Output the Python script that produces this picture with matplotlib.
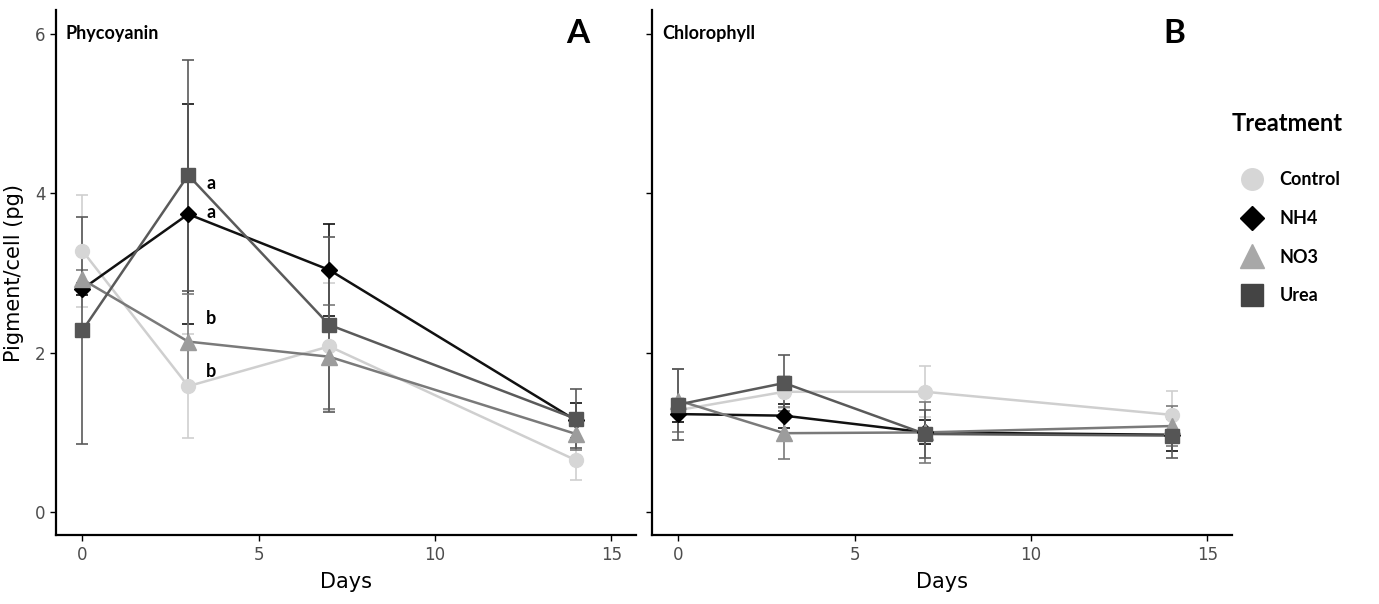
import matplotlib
matplotlib.use("Agg")
import matplotlib.pyplot as plt
from matplotlib.lines import Line2D

days = [0, 3, 7, 14]
treatments = ["Control", "NH4", "NO3", "Urea"]

# Phycocyanin (panel A)
phyco_control = [3.28, 1.58, 2.08, 0.65]
phyco_control_err = [0.70, 0.65, 0.80, 0.25]
phyco_nh4 = [2.80, 3.74, 3.04, 1.15]
phyco_nh4_err = [0.08, 1.38, 0.58, 0.22]
phyco_no3 = [2.92, 2.14, 1.95, 0.98]
phyco_no3_err = [0.12, 0.60, 0.65, 0.20]
phyco_urea = [2.28, 4.23, 2.35, 1.17]
phyco_urea_err = [1.42, 1.45, 1.10, 0.37]

# Chlorophyll (panel B)
chl_control = [1.28, 1.51, 1.51, 1.22]
chl_control_err = [0.15, 0.20, 0.32, 0.30]
chl_nh4 = [1.23, 1.21, 1.00, 0.97]
chl_nh4_err = [0.10, 0.15, 0.15, 0.20]
chl_no3 = [1.40, 0.99, 1.00, 1.08]
chl_no3_err = [0.40, 0.33, 0.38, 0.25]
chl_urea = [1.35, 1.62, 0.98, 0.96]
chl_urea_err = [0.45, 0.35, 0.30, 0.28]

# letters of significance, panel A, day 3
sig_letters = ["a", "a", "b", "b"]
sig_values = [phyco_urea[1], phyco_nh4[1], phyco_no3[1], phyco_control[1]]

marker_col = {"Control": "#d6d6d6", "NH4": "#000000", "NO3": "#9c9c9c", "Urea": "#555555"}
line_col = {"Control": "#cfcfcf", "NH4": "#111111", "NO3": "#7a7a7a", "Urea": "#5a5a5a"}
markers = {"Control": "o", "NH4": "D", "NO3": "^", "Urea": "s"}
msize = {"Control": 10, "NH4": 8, "NO3": 11, "Urea": 10}

plt.rcParams['font.family'] = ['Liberation Sans Narrow', 'DejaVu Sans']
label_font = ['Lato', 'DejaVu Sans']

fig = plt.figure(figsize=(13.79, 6.04), dpi=100)
axA = fig.add_axes([0.0406, 0.114, 0.4206, 0.869])
axB = fig.add_axes([0.4728, 0.114, 0.4206, 0.869])

panels = [
    (axA, [phyco_control, phyco_nh4, phyco_no3, phyco_urea],
     [phyco_control_err, phyco_nh4_err, phyco_no3_err, phyco_urea_err], "Phycoyanin", "A"),
    (axB, [chl_control, chl_nh4, chl_no3, chl_urea],
     [chl_control_err, chl_nh4_err, chl_no3_err, chl_urea_err], "Chlorophyll", "B"),
]

for ax, series, errs, name, letter in panels:
    for t, vals, err in zip(treatments, series, errs):
        ax.errorbar(days, vals, yerr=err, color=line_col[t], ecolor=line_col[t],
                    elinewidth=1.2, capsize=4, capthick=1.2, lw=1.8, zorder=2)
        ax.plot(days, vals, linestyle="none", marker=markers[t], ms=msize[t],
                color=marker_col[t], mec=marker_col[t], zorder=3)
    ax.set_xlim(-0.75, 15.7)
    ax.set_ylim(-0.29, 6.3)
    ax.set_xticks([0, 5, 10, 15])
    ax.set_yticks([0, 2, 4, 6])
    for s in ["top", "right"]:
        ax.spines[s].set_visible(False)
    for s in ["left", "bottom"]:
        ax.spines[s].set_linewidth(1.6)
    ax.tick_params(direction="out", length=4, width=1, labelsize=12, labelcolor="#4d4d4d")
    ax.set_xlabel("Days", fontsize=15, labelpad=6)
    ax.text(0.017, 0.955, name, transform=ax.transAxes, fontsize=13, fontweight="bold",
            family=label_font, va="center")
    ax.text(0.9, 0.955, letter, transform=ax.transAxes, fontsize=24, fontweight="bold",
            family=label_font, va="center", ha="center")

axB.set_yticklabels([])
axA.set_ylabel("Pigment/cell (pg)", fontsize=15, labelpad=8)

# vertical offsets of the letters from their points
sig_offsets = [-0.1, 0.02, 0.29, 0.18]
for lab, v, off in zip(sig_letters, sig_values, sig_offsets):
    axA.text(days[1] + 0.65, v + off, lab, fontsize=13, fontweight="bold",
             family=label_font, va="center", ha="center")

handles = [Line2D([], [], linestyle="none", marker=markers[t], ms=msize[t] * 1.55,
                  color=marker_col[t] if t != "Urea" else "#444444",
                  mec=marker_col[t] if t != "Urea" else "#444444") for t in treatments]
handles[2].set_color("#a8a8a8")
handles[2].set_mec("#a8a8a8")
leg = fig.legend(handles, treatments, loc="upper left", bbox_to_anchor=(0.888, 0.826),
                 frameon=False, title="Treatment", labelspacing=1.2, handletextpad=0.5,
                 borderaxespad=0,
                 prop={"family": label_font, "weight": "bold", "size": 13},
                 title_fontproperties={"family": label_font, "weight": "bold", "size": 17})
leg._legend_box.sep = 26

fig.savefig("out.png", dpi=100)
